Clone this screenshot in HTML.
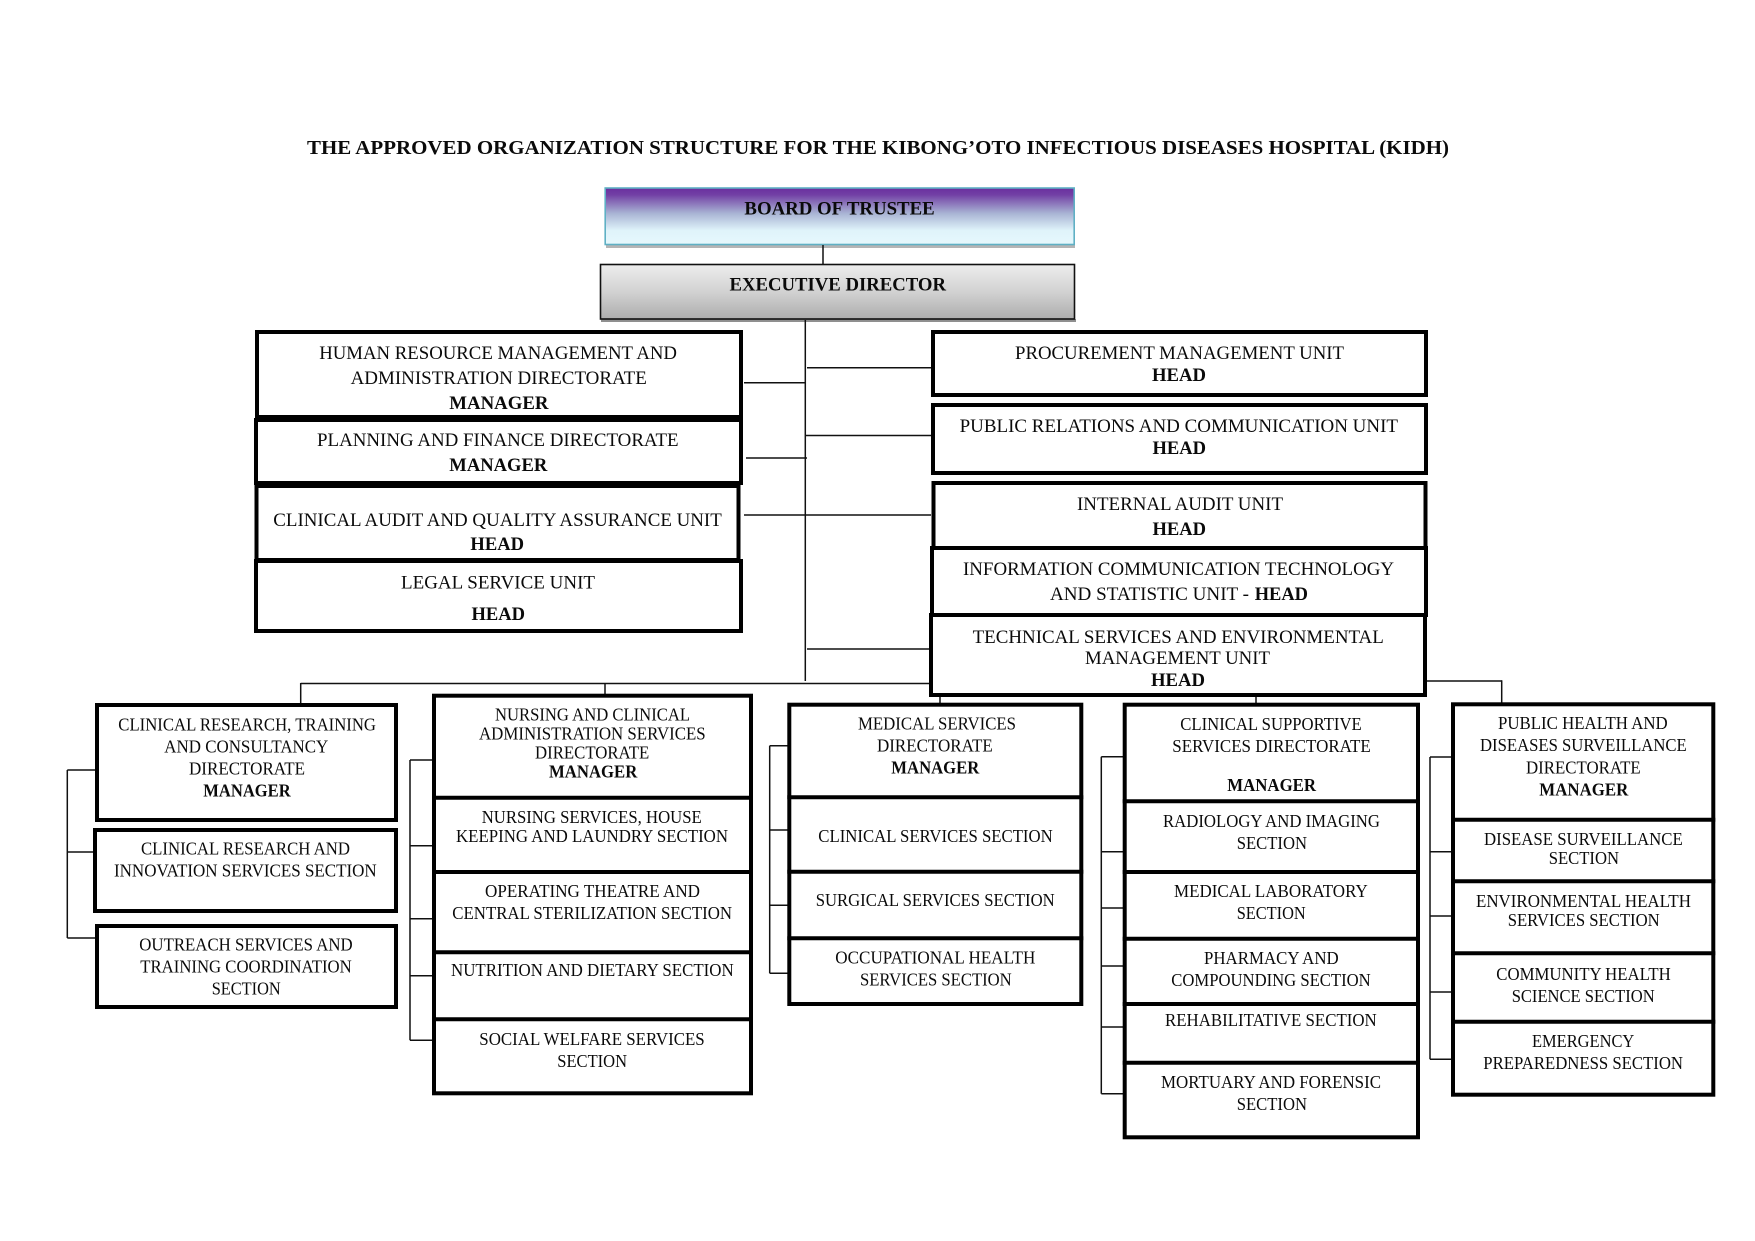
<!DOCTYPE html>
<html>
<head>
<meta charset="utf-8">
<title>KIDH Organization Structure</title>
<style>
html,body{margin:0;padding:0;background:#fff;}
svg{display:block;}
text{font-family:"Liberation Serif","Times New Roman",serif;fill:#0a0a0a;}
.t text{font-size:19px;}
.l text{font-size:17.5px;}
.b{font-weight:bold;}
.box rect{fill:#fff;stroke:#000;stroke-width:4;}
.sep line{stroke:#000;stroke-width:4;}
.c line{stroke:#111;stroke-width:1.5;}
</style>
</head>
<body>
<svg width="1755" height="1241" viewBox="0 0 1755 1241" xmlns="http://www.w3.org/2000/svg">
<defs>
<linearGradient id="g1" x1="0" y1="0" x2="0" y2="1">
<stop offset="0" stop-color="#6a2f9e"/><stop offset="0.12" stop-color="#7240a5"/><stop offset="0.45" stop-color="#a9b4d4"/><stop offset="0.75" stop-color="#dff3fa"/><stop offset="1" stop-color="#e6f8fd"/>
</linearGradient>
<linearGradient id="g2" x1="0" y1="0" x2="0" y2="1">
<stop offset="0" stop-color="#ededed"/><stop offset="0.5" stop-color="#d2d2d2"/><stop offset="1" stop-color="#adadad"/>
</linearGradient>
</defs>
<rect width="1755" height="1241" fill="#fff"/>

<rect x="606" y="245" width="469" height="3" fill="#b5b5b5"/>
<rect x="605.2" y="188" width="469" height="56.5" fill="url(#g1)" stroke="#5fb0c4" stroke-width="1.6"/>
<rect x="601" y="319" width="475" height="3" fill="#8f8f8f"/>
<rect x="600.5" y="264.5" width="474" height="54.5" fill="url(#g2)" stroke="#111" stroke-width="1.6"/>

<g class="c">
<line x1="823" y1="245" x2="823" y2="264"/>
<line x1="805.3" y1="320" x2="805.3" y2="681"/>
<line x1="744" y1="382.7" x2="805" y2="382.7"/>
<line x1="746" y1="458" x2="807" y2="458"/>
<line x1="744" y1="515" x2="931" y2="515"/>
<line x1="807" y1="367.7" x2="932" y2="367.7"/>
<line x1="805" y1="435.5" x2="932" y2="435.5"/>
<line x1="807" y1="649" x2="930" y2="649"/>
<line x1="300.7" y1="683.5" x2="930" y2="683.5"/>
<line x1="300.7" y1="683" x2="300.7" y2="704"/>
<line x1="605" y1="683" x2="605" y2="695"/>
<line x1="940" y1="696" x2="940" y2="704"/>
<line x1="1256" y1="696" x2="1256" y2="704"/>
<line x1="1426" y1="681" x2="1502" y2="681"/>
<line x1="1501.7" y1="680.3" x2="1501.7" y2="703"/>

<line x1="67.3" y1="770" x2="67.3" y2="938"/>
<line x1="67.3" y1="770" x2="96" y2="770"/>
<line x1="67.3" y1="852" x2="94" y2="852"/>
<line x1="67.3" y1="938" x2="96" y2="938"/>

<line x1="410" y1="760" x2="410" y2="1040.3"/>
<line x1="410" y1="760" x2="433" y2="760"/>
<line x1="410" y1="845.7" x2="433" y2="845.7"/>
<line x1="410" y1="918.7" x2="433" y2="918.7"/>
<line x1="410" y1="975.7" x2="433" y2="975.7"/>
<line x1="410" y1="1040.3" x2="433" y2="1040.3"/>

<line x1="769.7" y1="745.7" x2="769.7" y2="973.3"/>
<line x1="769.7" y1="745.7" x2="788" y2="745.7"/>
<line x1="769.7" y1="830" x2="788" y2="830"/>
<line x1="769.7" y1="905.3" x2="788" y2="905.3"/>
<line x1="769.7" y1="973.3" x2="788" y2="973.3"/>

<line x1="1101.3" y1="756.7" x2="1101.3" y2="1093.7"/>
<line x1="1101.3" y1="756.7" x2="1124" y2="756.7"/>
<line x1="1101.3" y1="851.7" x2="1124" y2="851.7"/>
<line x1="1101.3" y1="908" x2="1124" y2="908"/>
<line x1="1101.3" y1="966" x2="1124" y2="966"/>
<line x1="1101.3" y1="1027" x2="1124" y2="1027"/>
<line x1="1101.3" y1="1093.7" x2="1124" y2="1093.7"/>

<line x1="1430" y1="757" x2="1430" y2="1059.3"/>
<line x1="1430" y1="757" x2="1452" y2="757"/>
<line x1="1430" y1="851.7" x2="1452" y2="851.7"/>
<line x1="1430" y1="916" x2="1452" y2="916"/>
<line x1="1430" y1="992" x2="1452" y2="992"/>
<line x1="1430" y1="1059.3" x2="1452" y2="1059.3"/>
</g>

<g class="box">
<rect x="257" y="332" width="484" height="85"/>
<rect x="256" y="420" width="485" height="63"/>
<rect x="256.5" y="486" width="482" height="74"/>
<rect x="256" y="561" width="485" height="70"/>

<rect x="933" y="332" width="493" height="63"/>
<rect x="933" y="405" width="493" height="68"/>
<rect x="933.5" y="483" width="492" height="65"/>
<rect x="932" y="548" width="494" height="67"/>
<rect x="931" y="615" width="494" height="80"/>

<rect x="97" y="705" width="299" height="115"/>
<rect x="95" y="830" width="301" height="81"/>
<rect x="97" y="926" width="299" height="81"/>

<rect x="434" y="695.7" width="317" height="397.6"/>
<rect x="789.3" y="704.7" width="292" height="299.3"/>
<rect x="1124.7" y="704.7" width="293.3" height="432.6"/>
<rect x="1453" y="704.3" width="260.3" height="390.4"/>
</g>

<g class="sep">
<line x1="432" y1="797.7" x2="753" y2="797.7"/>
<line x1="432" y1="872" x2="753" y2="872"/>
<line x1="432" y1="952.3" x2="753" y2="952.3"/>
<line x1="432" y1="1019.3" x2="753" y2="1019.3"/>

<line x1="787.3" y1="797.3" x2="1083.3" y2="797.3"/>
<line x1="787.3" y1="871.7" x2="1083.3" y2="871.7"/>
<line x1="787.3" y1="938.3" x2="1083.3" y2="938.3"/>

<line x1="1122.7" y1="801.3" x2="1420" y2="801.3"/>
<line x1="1122.7" y1="872" x2="1420" y2="872"/>
<line x1="1122.7" y1="938.7" x2="1420" y2="938.7"/>
<line x1="1122.7" y1="1004" x2="1420" y2="1004"/>
<line x1="1122.7" y1="1062.7" x2="1420" y2="1062.7"/>

<line x1="1451" y1="819.7" x2="1715.3" y2="819.7"/>
<line x1="1451" y1="881.3" x2="1715.3" y2="881.3"/>
<line x1="1451" y1="953.3" x2="1715.3" y2="953.3"/>
<line x1="1451" y1="1021.7" x2="1715.3" y2="1021.7"/>
</g>

<text class="b" x="307" y="154" font-size="20.5" textLength="1142" lengthAdjust="spacingAndGlyphs">THE APPROVED ORGANIZATION STRUCTURE FOR THE KIBONG’OTO INFECTIOUS DISEASES HOSPITAL (KIDH)</text>

<g class="t">
<text class="b" x="744.4" y="214.3" textLength="190.3" lengthAdjust="spacingAndGlyphs">BOARD OF TRUSTEE</text>
<text class="b" x="729.5" y="290.3" textLength="216.5" lengthAdjust="spacingAndGlyphs">EXECUTIVE DIRECTOR</text>

<text x="319.2" y="359" textLength="357.8" lengthAdjust="spacingAndGlyphs">HUMAN RESOURCE MANAGEMENT AND</text>
<text x="350.6" y="384" textLength="296.2" lengthAdjust="spacingAndGlyphs">ADMINISTRATION DIRECTORATE</text>
<text class="b" x="449.3" y="409" textLength="99.2" lengthAdjust="spacingAndGlyphs">MANAGER</text>
<text x="317" y="446" textLength="361.6" lengthAdjust="spacingAndGlyphs">PLANNING AND FINANCE DIRECTORATE</text>
<text class="b" x="449.3" y="471" textLength="98" lengthAdjust="spacingAndGlyphs">MANAGER</text>
<text x="273.3" y="526" textLength="448.5" lengthAdjust="spacingAndGlyphs">CLINICAL AUDIT AND QUALITY ASSURANCE UNIT</text>
<text class="b" x="470.4" y="550" textLength="53.6" lengthAdjust="spacingAndGlyphs">HEAD</text>
<text x="401" y="588.3" textLength="194" lengthAdjust="spacingAndGlyphs">LEGAL SERVICE UNIT</text>
<text class="b" x="471.5" y="620" textLength="53.5" lengthAdjust="spacingAndGlyphs">HEAD</text>

<text x="1015" y="359" textLength="329" lengthAdjust="spacingAndGlyphs">PROCUREMENT MANAGEMENT UNIT</text>
<text class="b" x="1152" y="381" textLength="54" lengthAdjust="spacingAndGlyphs">HEAD</text>
<text x="959.6" y="432" textLength="438.4" lengthAdjust="spacingAndGlyphs">PUBLIC RELATIONS AND COMMUNICATION UNIT</text>
<text class="b" x="1152.5" y="454" textLength="53.5" lengthAdjust="spacingAndGlyphs">HEAD</text>
<text x="1077" y="510" textLength="206" lengthAdjust="spacingAndGlyphs">INTERNAL AUDIT UNIT</text>
<text class="b" x="1152.5" y="535" textLength="53.5" lengthAdjust="spacingAndGlyphs">HEAD</text>
<text x="963" y="575" textLength="431" lengthAdjust="spacingAndGlyphs">INFORMATION COMMUNICATION TECHNOLOGY</text>
<text x="1050" y="600" textLength="199" lengthAdjust="spacingAndGlyphs">AND STATISTIC UNIT -</text>
<text class="b" x="1254.7" y="600" textLength="53.3" lengthAdjust="spacingAndGlyphs">HEAD</text>
<text x="972.6" y="643" textLength="411.2" lengthAdjust="spacingAndGlyphs">TECHNICAL SERVICES AND ENVIRONMENTAL</text>
<text x="1085" y="664" textLength="185" lengthAdjust="spacingAndGlyphs">MANAGEMENT UNIT</text>
<text class="b" x="1151" y="686" textLength="54" lengthAdjust="spacingAndGlyphs">HEAD</text>
</g>

<g class="l" transform="translate(0,-0.5)">
<text x="118.3" y="731" textLength="257.7" lengthAdjust="spacingAndGlyphs">CLINICAL RESEARCH, TRAINING</text>
<text x="164.3" y="753" textLength="164" lengthAdjust="spacingAndGlyphs">AND CONSULTANCY</text>
<text x="189" y="775" textLength="116" lengthAdjust="spacingAndGlyphs">DIRECTORATE</text>
<text class="b" x="203.3" y="797" textLength="87.4" lengthAdjust="spacingAndGlyphs">MANAGER</text>
<text x="141" y="855" textLength="209" lengthAdjust="spacingAndGlyphs">CLINICAL RESEARCH AND</text>
<text x="114" y="877" textLength="262.7" lengthAdjust="spacingAndGlyphs">INNOVATION SERVICES SECTION</text>
<text x="139.3" y="951" textLength="213.4" lengthAdjust="spacingAndGlyphs">OUTREACH SERVICES AND</text>
<text x="140.3" y="973" textLength="211.4" lengthAdjust="spacingAndGlyphs">TRAINING COORDINATION</text>
<text x="211.7" y="995" textLength="69" lengthAdjust="spacingAndGlyphs">SECTION</text>

<text x="495" y="721" textLength="195" lengthAdjust="spacingAndGlyphs">NURSING AND CLINICAL</text>
<text x="479" y="740" textLength="226.7" lengthAdjust="spacingAndGlyphs">ADMINISTRATION SERVICES</text>
<text x="535" y="759" textLength="114.3" lengthAdjust="spacingAndGlyphs">DIRECTORATE</text>
<text class="b" x="549" y="778" textLength="88.3" lengthAdjust="spacingAndGlyphs">MANAGER</text>
<text x="481.7" y="823.3" textLength="220" lengthAdjust="spacingAndGlyphs">NURSING SERVICES, HOUSE</text>
<text x="456" y="842.3" textLength="272" lengthAdjust="spacingAndGlyphs">KEEPING AND LAUNDRY SECTION</text>
<text x="485" y="897.3" textLength="215" lengthAdjust="spacingAndGlyphs">OPERATING THEATRE AND</text>
<text x="452.3" y="919.3" textLength="279.7" lengthAdjust="spacingAndGlyphs">CENTRAL STERILIZATION SECTION</text>
<text x="451" y="976.3" textLength="282.7" lengthAdjust="spacingAndGlyphs">NUTRITION AND DIETARY SECTION</text>
<text x="479.3" y="1045.3" textLength="225.4" lengthAdjust="spacingAndGlyphs">SOCIAL WELFARE SERVICES</text>
<text x="557.3" y="1067.3" textLength="69.7" lengthAdjust="spacingAndGlyphs">SECTION</text>

<text x="858" y="730" textLength="158" lengthAdjust="spacingAndGlyphs">MEDICAL SERVICES</text>
<text x="877" y="752" textLength="115.7" lengthAdjust="spacingAndGlyphs">DIRECTORATE</text>
<text class="b" x="891.3" y="774" textLength="88" lengthAdjust="spacingAndGlyphs">MANAGER</text>
<text x="818.3" y="842.3" textLength="234.4" lengthAdjust="spacingAndGlyphs">CLINICAL SERVICES SECTION</text>
<text x="815.7" y="906.3" textLength="239" lengthAdjust="spacingAndGlyphs">SURGICAL SERVICES SECTION</text>
<text x="835.3" y="964" textLength="200" lengthAdjust="spacingAndGlyphs">OCCUPATIONAL HEALTH</text>
<text x="860" y="986" textLength="151.7" lengthAdjust="spacingAndGlyphs">SERVICES SECTION</text>

<text x="1180.3" y="730.3" textLength="181.4" lengthAdjust="spacingAndGlyphs">CLINICAL SUPPORTIVE</text>
<text x="1172.3" y="752.3" textLength="198.4" lengthAdjust="spacingAndGlyphs">SERVICES DIRECTORATE</text>
<text class="b" x="1227.3" y="791.3" textLength="88.7" lengthAdjust="spacingAndGlyphs">MANAGER</text>
<text x="1163" y="827.3" textLength="217" lengthAdjust="spacingAndGlyphs">RADIOLOGY AND IMAGING</text>
<text x="1236.7" y="849.3" textLength="70.3" lengthAdjust="spacingAndGlyphs">SECTION</text>
<text x="1174" y="897.3" textLength="193.7" lengthAdjust="spacingAndGlyphs">MEDICAL LABORATORY</text>
<text x="1236.7" y="919.3" textLength="69" lengthAdjust="spacingAndGlyphs">SECTION</text>
<text x="1204" y="964.3" textLength="134.7" lengthAdjust="spacingAndGlyphs">PHARMACY AND</text>
<text x="1171.3" y="986.3" textLength="199.4" lengthAdjust="spacingAndGlyphs">COMPOUNDING SECTION</text>
<text x="1165" y="1026.3" textLength="211.7" lengthAdjust="spacingAndGlyphs">REHABILITATIVE SECTION</text>
<text x="1161" y="1088.3" textLength="220" lengthAdjust="spacingAndGlyphs">MORTUARY AND FORENSIC</text>
<text x="1236.7" y="1110.3" textLength="70.3" lengthAdjust="spacingAndGlyphs">SECTION</text>

<text x="1498" y="729.3" textLength="169.7" lengthAdjust="spacingAndGlyphs">PUBLIC HEALTH AND</text>
<text x="1480" y="751.3" textLength="206.7" lengthAdjust="spacingAndGlyphs">DISEASES SURVEILLANCE</text>
<text x="1526" y="774" textLength="114.7" lengthAdjust="spacingAndGlyphs">DIRECTORATE</text>
<text class="b" x="1539.3" y="796" textLength="89" lengthAdjust="spacingAndGlyphs">MANAGER</text>
<text x="1484" y="845.3" textLength="198.7" lengthAdjust="spacingAndGlyphs">DISEASE SURVEILLANCE</text>
<text x="1548.7" y="864.3" textLength="70.3" lengthAdjust="spacingAndGlyphs">SECTION</text>
<text x="1476" y="907.3" textLength="215" lengthAdjust="spacingAndGlyphs">ENVIRONMENTAL HEALTH</text>
<text x="1507.7" y="926.3" textLength="152" lengthAdjust="spacingAndGlyphs">SERVICES SECTION</text>
<text x="1496.3" y="980.3" textLength="174.4" lengthAdjust="spacingAndGlyphs">COMMUNITY HEALTH</text>
<text x="1511.7" y="1002.3" textLength="143" lengthAdjust="spacingAndGlyphs">SCIENCE SECTION</text>
<text x="1532" y="1047.3" textLength="102.3" lengthAdjust="spacingAndGlyphs">EMERGENCY</text>
<text x="1483.3" y="1069.3" textLength="199.7" lengthAdjust="spacingAndGlyphs">PREPAREDNESS SECTION</text>
</g>
</svg>
</body>
</html>
